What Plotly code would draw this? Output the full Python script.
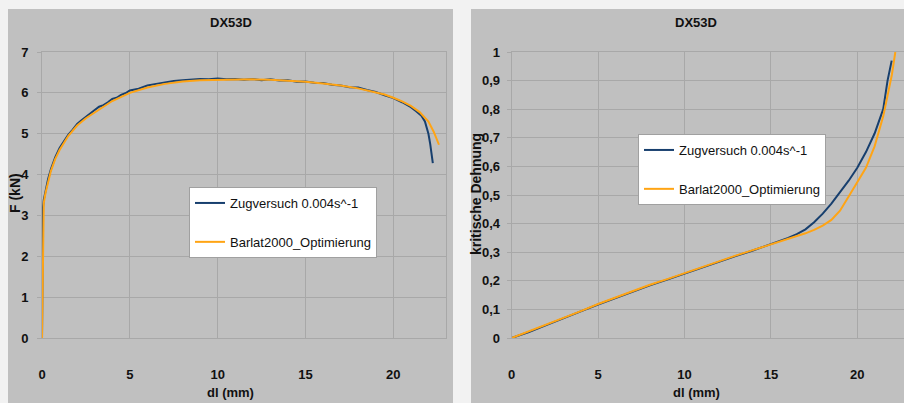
import plotly.graph_objects as go

# ---- Kraft-Weg-Kurve (links) ----
dl_zug = [0, 0.02, 0.04, 0.06, 0.1, 0.2, 0.35, 0.5, 0.75, 1.0, 1.25, 1.5, 1.75, 2.0, 2.25,
          2.5, 2.75, 3.0, 3.25, 3.5, 3.75, 4.0, 4.25, 4.5, 4.75, 5.0, 5.5, 6.0, 6.5, 7.0,
          7.5, 8.0, 8.5, 9.0, 9.5, 10.0, 10.5, 11.0, 11.5, 12.0, 12.5, 13.0, 13.5, 14.0,
          14.5, 15.0, 15.5, 16.0, 16.5, 17.0, 17.5, 18.0, 18.5, 19.0, 19.5, 20.0, 20.5,
          21.0, 21.3, 21.6, 21.8, 22.0, 22.1, 22.25]
F_zug = [0, 1.4, 2.6, 3.2, 3.38, 3.6, 3.9, 4.12, 4.42, 4.65, 4.82, 4.98, 5.1, 5.24, 5.33,
         5.42, 5.5, 5.58, 5.66, 5.7, 5.77, 5.85, 5.88, 5.95, 5.99, 6.06, 6.1, 6.18, 6.22, 6.26,
         6.29, 6.31, 6.33, 6.34, 6.33, 6.35, 6.33, 6.34, 6.32, 6.34, 6.31, 6.33, 6.3, 6.31,
         6.27, 6.28, 6.25, 6.24, 6.2, 6.18, 6.14, 6.13, 6.07, 6.02, 5.94, 5.87, 5.77,
         5.65, 5.55, 5.44, 5.3, 5.0, 4.75, 4.28]

dl_sim = [0, 0.03, 0.06, 0.1, 0.2, 0.35, 0.5, 0.75, 1.0, 1.5, 2.0, 2.5, 3.0, 4.0, 5.0, 6.0,
          7.0, 8.0, 9.0, 10.0, 11.0, 12.0, 13.0, 14.0, 15.0, 16.0, 17.0, 18.0, 19.0, 19.5,
          20.0, 20.5, 21.0, 21.5, 22.0, 22.3, 22.6]
F_sim = [0, 1.6, 3.0, 3.3, 3.55, 3.85, 4.08, 4.38, 4.6, 4.95, 5.2, 5.38, 5.52, 5.8, 6.0, 6.13,
         6.22, 6.28, 6.31, 6.32, 6.33, 6.33, 6.32, 6.3, 6.27, 6.23, 6.18, 6.11, 6.02, 5.96,
         5.88, 5.79, 5.68, 5.53, 5.3, 5.05, 4.73]

# ---- kritische Dehnung (rechts) ----
dl_eps_zug = [0, 1, 2, 3, 4, 5, 6, 7, 8, 9, 10, 11, 12, 13, 14, 15, 16, 16.5, 17, 17.5,
              18, 18.5, 19, 19.5, 20, 20.5, 21, 21.5, 21.75, 21.99]
eps_zug = [0, 0.021, 0.045, 0.068, 0.093, 0.117, 0.140, 0.163, 0.184, 0.204, 0.225, 0.247,
           0.267, 0.287, 0.307, 0.328, 0.35, 0.363, 0.38, 0.405,
           0.435, 0.47, 0.508, 0.55, 0.595, 0.65, 0.715, 0.8, 0.9, 0.97]

dl_eps_sim = [0, 1, 2, 3, 4, 5, 6, 7, 8, 9, 10, 11, 12, 13, 14, 15, 16, 17, 17.5, 18,
              18.5, 19, 19.5, 20, 20.5, 21, 21.5, 22, 22.2]
eps_sim = [0, 0.023, 0.046, 0.07, 0.094, 0.119, 0.142, 0.165, 0.186, 0.206, 0.227, 0.249,
           0.269, 0.289, 0.308, 0.327, 0.347, 0.366, 0.378, 0.393,
           0.413, 0.445, 0.495, 0.545, 0.595, 0.67, 0.775, 0.92, 1.0]

name_zug = "Zugversuch 0.004s^-1"
name_sim = "Barlat2000_Optimierung"
title_text = "DX53D"

BLUE = "#173f6e"
ORANGE = "#ffa414"
PANEL = "#c0c0c0"
GRID = "#a8a8a8"
FONT = "Liberation Sans, Arial, sans-serif"

W, H = 904, 403


def px_x(p):
    """pixel column -> paper fraction"""
    return p / W


def px_y(p):
    """pixel row -> paper fraction"""
    return 1 - p / H


fig = go.Figure()

fig.add_trace(go.Scatter(x=dl_zug, y=F_zug, mode="lines", name=name_zug,
                         line=dict(color=BLUE, width=2), xaxis="x", yaxis="y",
                         legend="legend", legendgroup="a"))
fig.add_trace(go.Scatter(x=dl_sim, y=F_sim, mode="lines", name=name_sim,
                         line=dict(color=ORANGE, width=2), xaxis="x", yaxis="y",
                         legend="legend", legendgroup="b"))
fig.add_trace(go.Scatter(x=dl_eps_zug, y=eps_zug, mode="lines", name=name_zug,
                         line=dict(color=BLUE, width=2), xaxis="x2", yaxis="y2",
                         legend="legend2", legendgroup="c"))
fig.add_trace(go.Scatter(x=dl_eps_sim, y=eps_sim, mode="lines", name=name_sim,
                         line=dict(color=ORANGE, width=2), xaxis="x2", yaxis="y2",
                         legend="legend2", legendgroup="d"))

tick_font = dict(family=FONT, size=13, color="#111111", weight="bold")

axis_common = dict(
    showgrid=True, gridcolor=GRID, gridwidth=1,
    showline=True, linecolor=GRID, linewidth=1, mirror=True,
    zeroline=False, tickfont=tick_font, automargin=False,
)

ydom = [px_y(338), px_y(52)]

legend_style = dict(
    xanchor="left", yanchor="top",
    bgcolor="white", bordercolor="#a0a0a0", borderwidth=1,
    font=dict(family=FONT, size=13, color="#111111"),
    tracegroupgap=19, itemwidth=30, traceorder="grouped",
)

fig.update_layout(
    width=W, height=H,
    margin=dict(l=0, r=0, t=0, b=0, pad=0, autoexpand=False),
    paper_bgcolor="#f2f2f2",
    plot_bgcolor="white",
    separators=", ",
    font=dict(family=FONT, color="#111111"),
    xaxis=dict(domain=[px_x(42), px_x(446)], range=[0, 23], dtick=5, ticks="",
               ticklabelstandoff=24, anchor="y", **axis_common),
    yaxis=dict(domain=ydom, range=[0, 7], dtick=1, ticks="outside", ticklen=4,
               tickcolor=GRID, ticklabelstandoff=6, anchor="x", **axis_common),
    xaxis2=dict(domain=[px_x(511.7), 1.0], range=[0, (W - 511.7) / 17.28], dtick=5,
                ticks="", ticklabelstandoff=24, anchor="y2", **axis_common),
    yaxis2=dict(domain=ydom, range=[0, 1], dtick=0.1, ticks="outside", ticklen=4,
                tickcolor=GRID, ticklabelstandoff=4, anchor="x2", tickformat=".1~f",
                **axis_common),
    legend=dict(x=px_x(189), y=px_y(187), **legend_style),
    legend2=dict(x=px_x(638), y=px_y(134), **legend_style),
    showlegend=True,
)

# grey chart panels behind both plots
fig.add_shape(type="rect", xref="paper", yref="paper", layer="below",
              x0=px_x(8), x1=px_x(453), y0=0, y1=px_y(9),
              fillcolor=PANEL, line=dict(width=0))
fig.add_shape(type="rect", xref="paper", yref="paper", layer="below",
              x0=px_x(471), x1=1.0, y0=0, y1=px_y(9),
              fillcolor=PANEL, line=dict(width=0))

bold = dict(family=FONT, size=13, color="#111111", weight="bold")
bold_v = dict(family=FONT, size=14, color="#111111", weight="bold")

# chart titles
for cx in (231, 696):
    fig.add_annotation(x=px_x(cx), y=px_y(23), xref="paper", yref="paper",
                       text=title_text, showarrow=False, font=bold,
                       xanchor="center", yanchor="middle")

# axis titles
for cx in (231, 696):
    fig.add_annotation(x=px_x(cx), y=px_y(392), xref="paper", yref="paper",
                       text="dl (mm)", showarrow=False, font=bold,
                       xanchor="center", yanchor="middle")
fig.add_annotation(x=px_x(15), y=px_y(193), xref="paper", yref="paper",
                   text="F (kN)", textangle=-90, showarrow=False, font=bold_v,
                   xanchor="center", yanchor="middle")
fig.add_annotation(x=px_x(476), y=px_y(194), xref="paper", yref="paper",
                   text="kritische Dehnung", textangle=-90, showarrow=False, font=bold_v,
                   xanchor="center", yanchor="middle")

fig.write_html("out.html")
